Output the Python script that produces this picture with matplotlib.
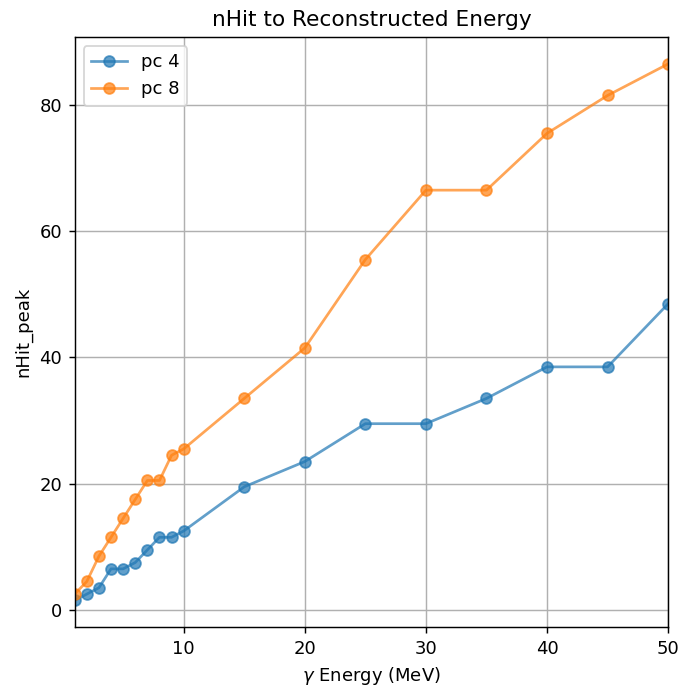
import numpy as np
import matplotlib.pyplot as plt

energy = [1, 2, 3, 4, 5, 6, 7, 8, 9, 10, 15, 20, 25, 30, 35, 40, 45, 50]
nhit_pc4 = [1.5, 2.5, 3.5, 6.5, 6.5, 7.5, 9.5, 11.5, 11.5, 12.5,
            19.5, 23.5, 29.5, 29.5, 33.5, 38.5, 38.5, 48.5]
nhit_pc8 = [2.5, 4.5, 8.5, 11.5, 14.5, 17.5, 20.5, 20.5, 24.5, 25.5,
            33.5, 41.5, 55.5, 66.5, 66.5, 75.5, 81.5, 86.5]

# reference looks like a screenshot of a higher-dpi figure
fig, ax = plt.subplots(figsize=(679 / 130, 687 / 130), dpi=130)
fig.subplots_adjust(left=0.11, right=0.984, top=0.946, bottom=0.087)

ax.plot(energy, nhit_pc4, 'o-', alpha=0.7, label='pc 4')
ax.plot(energy, nhit_pc8, 'o-', alpha=0.7, label='pc 8')

ax.set_xlim(1, 50)
ax.set_title('nHit to Reconstructed Energy')
ax.set_xlabel(r'$\gamma$ Energy (MeV)')
ax.set_ylabel('nHit_peak')
ax.grid(True)
ax.legend(loc='upper left')

fig.savefig('out.png')
